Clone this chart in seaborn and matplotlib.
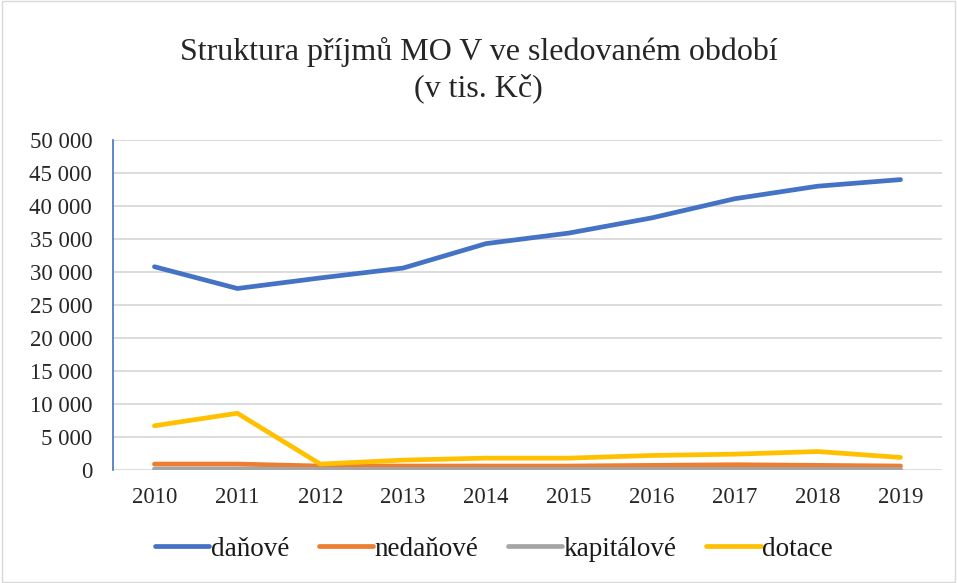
import pandas as pd
import seaborn as sns
import matplotlib.pyplot as plt
from matplotlib.ticker import FuncFormatter

# roky a příjmy (tis. Kč)
roky = [2010, 2011, 2012, 2013, 2014, 2015, 2016, 2017, 2018, 2019]
danove = [30800, 27500, 29100, 30600, 34300, 35900, 38200, 41100, 43000, 44000]
nedanove = [900, 900, 600, 600, 600, 600, 700, 800, 700, 600]
kapitalove = [150, 150, 100, 100, 100, 100, 100, 100, 100, 100]
dotace = [6700, 8600, 900, 1500, 1800, 1800, 2200, 2400, 2800, 1900]

serie = ['daňové', 'nedaňové', 'kapitálové', 'dotace']
barvy = ['#4472C4', '#ED7D31', '#A5A5A5', '#FFC000']

df = pd.DataFrame({'rok': [str(r) for r in roky], 'daňové': danove, 'nedaňové': nedanove,
                   'kapitálové': kapitalove, 'dotace': dotace})
data = df.melt(id_vars='rok', var_name='typ', value_name='hodnota')

sns.set_style("white")
plt.rcParams['font.family'] = ['Liberation Serif', 'DejaVu Serif']

fig = plt.figure(figsize=(9.57, 5.83), dpi=100)
ax = fig.add_axes([113 / 957, 1 - 470 / 583, (942 - 113) / 957, (470 - 140) / 583])

sns.lineplot(data=data, x='rok', y='hodnota', hue='typ', hue_order=serie,
             palette=barvy, linewidth=3.4, ax=ax, sort=False)
for l in ax.lines:
    l.set_solid_capstyle('round')

ax.set_ylim(0, 50000)
ax.set_xlim(-0.5, 9.5)
ax.set_yticks(range(0, 50001, 5000))
ax.yaxis.set_major_formatter(FuncFormatter(lambda v, p: f"{int(v):,}".replace(',', ' ')))
ax.grid(axis='y', color='#D9D9D9', linewidth=1.3)
ax.set_axisbelow(True)
for s in ['top', 'right', 'bottom']:
    ax.spines[s].set_visible(False)
ax.spines['left'].set_color('#4472C4')
ax.spines['left'].set_linewidth(1.2)
ax.tick_params(axis='both', length=0, labelsize=16.5, colors='#262626')
ax.tick_params(axis='y', pad=15)
ax.tick_params(axis='x', pad=12)
ax.set_xlabel('')
ax.set_ylabel('')

fig.text(0.5, 1 - 70 / 583, 'Struktura příjmů MO V ve sledovaném období\n(v tis. Kč)',
         ha='center', va='center', fontsize=23, color='#262626', linespacing=1.27)

ax.legend(loc='center', bbox_to_anchor=(494 / 957, 1 - 549 / 583), bbox_transform=fig.transFigure,
          ncol=4, frameon=False, fontsize=19.5, handlelength=2.0, handletextpad=0.05,
          columnspacing=1.1, labelcolor='#1a1a1a')

fig.patches.append(plt.Rectangle((0.002, 0.002), 0.996, 0.996, transform=fig.transFigure,
                                 fill=False, edgecolor='#D9D9D9', linewidth=1))
fig.savefig('out.png', dpi=100)
